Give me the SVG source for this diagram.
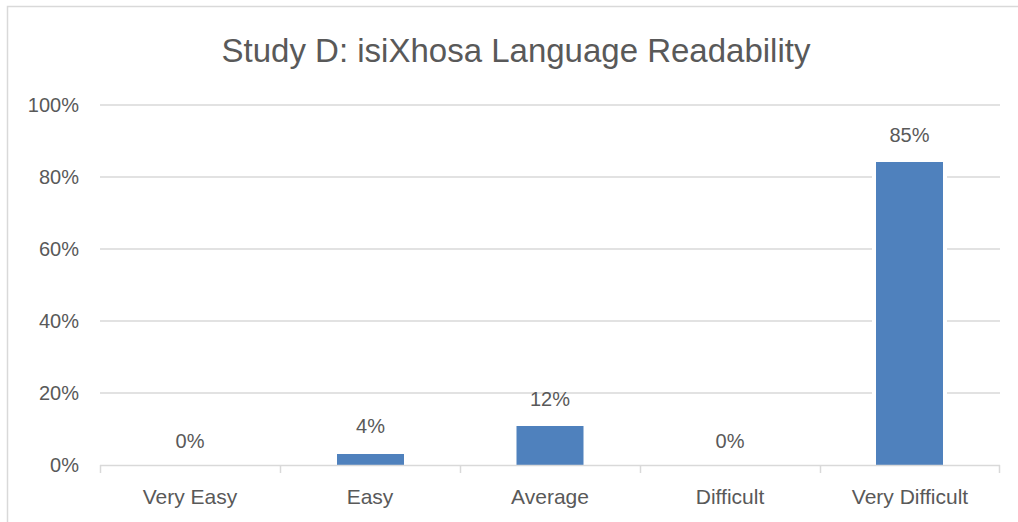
<svg xmlns="http://www.w3.org/2000/svg" width="1018" height="522" viewBox="0 0 1018 522">
  <style>
    text { font-family: "Liberation Sans", Arial, sans-serif; fill: #595959; }
    .title { font-size: 33px; text-anchor: middle; }
    .tick { font-size: 20px; text-anchor: end; }
    .cat { font-size: 21px; text-anchor: middle; }
    .val { font-size: 20px; text-anchor: middle; }
    .grid { stroke: #d9d9d9; stroke-width: 1.5; fill: none; }
    .bar { fill: #4f81bd; stroke: #ffffff; stroke-width: 8; paint-order: stroke; }
  </style>

  <!-- chart area -->
  <rect x="0" y="0" width="1018" height="522" fill="#ffffff"/>
  <rect x="7.5" y="6.5" width="1030" height="530" fill="none" stroke="#d9d9d9" stroke-width="1.5"/>

  <text class="title" x="516" y="62">Study D: isiXhosa Language Readability</text>

  <!-- value axis gridlines and labels -->
  <g id="value-axis">
    <line class="grid" x1="100" y1="105" x2="1000" y2="105"/>
    <line class="grid" x1="100" y1="177" x2="1000" y2="177"/>
    <line class="grid" x1="100" y1="249" x2="1000" y2="249"/>
    <line class="grid" x1="100" y1="321" x2="1000" y2="321"/>
    <line class="grid" x1="100" y1="393" x2="1000" y2="393"/>
    <text class="tick" x="79" y="112">100%</text>
    <text class="tick" x="79" y="184">80%</text>
    <text class="tick" x="79" y="256">60%</text>
    <text class="tick" x="79" y="328">40%</text>
    <text class="tick" x="79" y="400">20%</text>
    <text class="tick" x="79" y="472">0%</text>
  </g>

  <!-- bars -->
  <g id="bar-very-easy">
    <text class="val" x="190" y="448">0%</text>
  </g>
  <g id="bar-easy">
    <rect class="bar" x="337" y="454" width="67" height="11"/>
    <text class="val" x="370.5" y="433">4%</text>
  </g>
  <g id="bar-average">
    <rect class="bar" x="516.5" y="426" width="67" height="39"/>
    <text class="val" x="550" y="406">12%</text>
  </g>
  <g id="bar-difficult">
    <text class="val" x="730" y="448">0%</text>
  </g>
  <g id="bar-very-difficult">
    <rect class="bar" x="876" y="162" width="67" height="303"/>
    <text class="val" x="909.5" y="142">85%</text>
  </g>

  <!-- category axis -->
  <g id="category-axis">
    <path class="grid" d="M100 465.5 H1000 M100.5 465 V473 M280.5 465 V473 M460.5 465 V473 M640.5 465 V473 M820.5 465 V473 M999.5 465 V473"/>
    <text class="cat" x="190" y="504">Very Easy</text>
    <text class="cat" x="370" y="504">Easy</text>
    <text class="cat" x="550" y="504">Average</text>
    <text class="cat" x="730" y="504">Difficult</text>
    <text class="cat" x="910" y="504">Very Difficult</text>
  </g>
</svg>
